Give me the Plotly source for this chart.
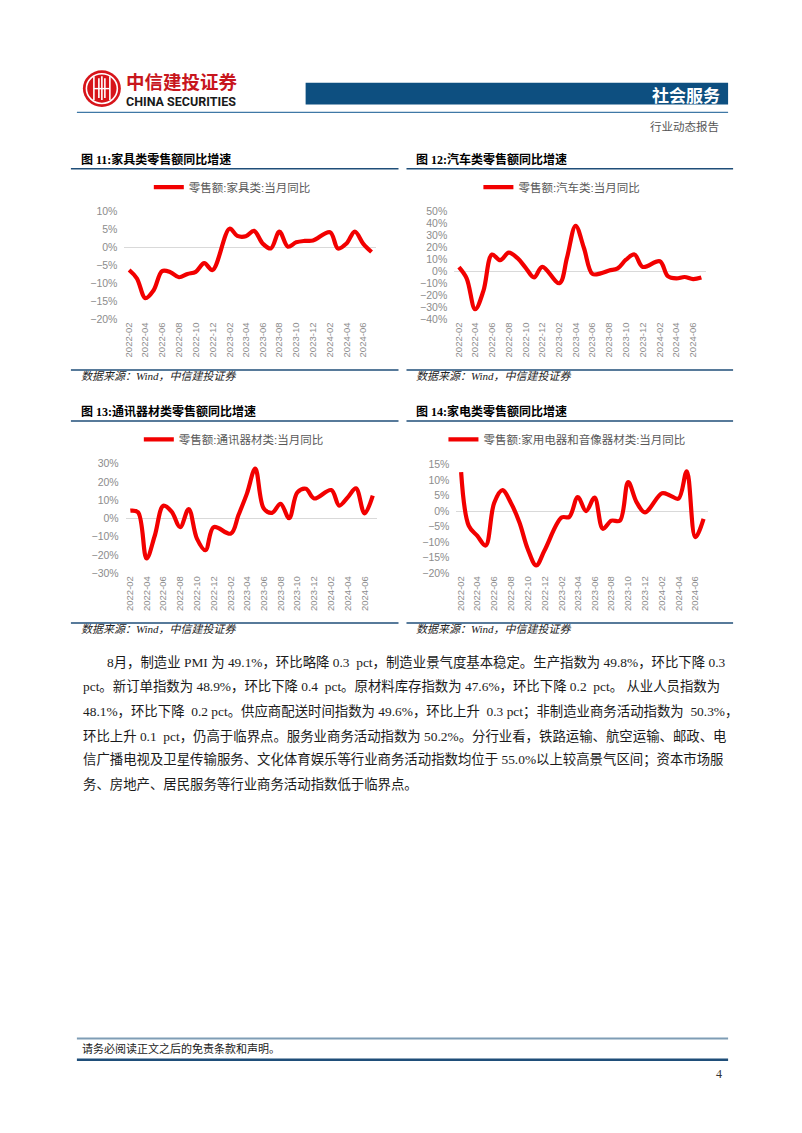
import plotly.graph_objects as go

# ---------------- data ----------------
months = ["2022-02", "2022-03", "2022-04", "2022-05", "2022-06", "2022-07", "2022-08",
          "2022-09", "2022-10", "2022-11", "2022-12",
          "2023-02", "2023-03", "2023-04", "2023-05", "2023-06", "2023-07", "2023-08",
          "2023-09", "2023-10", "2023-11", "2023-12",
          "2024-02", "2024-03", "2024-04", "2024-05", "2024-06", "2024-07"]

furniture = [-6.2, -8.5, -14.0, -11.8, -6.5, -6.8, -8.2, -7.3, -6.7, -4.3, -6.2,
             5.3, 3.3, 3.2, 4.7, 1.2, -0.2, 4.5, 0.3, 1.5, 1.9, 2.0,
             4.3, -0.2, 1.2, 4.5, 1.1, -1.2]

auto = [3.8, -5.5, -31.3, -16.0, 14.3, 9.6, 15.9, 11.5, 3.5, -4.7, 4.1,
        -9.6, 12.0, 38.3, 20.0, -1.8, -1.4, 1.0, 2.8, 10.0, 14.4, 4.0,
        8.7, -3.7, -5.6, -4.4, -6.2, -4.9]

telecom = [4.3, 3.4, -21.9, -9.3, 7.0, 3.8, -4.7, 5.2, -11.0, -17.4, -4.7,
           -8.3, 1.9, 13.8, 27.3, 5.5, 3.1, 8.0, 0.2, 14.3, 16.3, 11.0,
           15.6, 7.1, 11.6, 16.5, 2.8, 12.5]

appliance = [12.5, -4.8, -8.0, -11.1, 2.6, 6.7, 2.6, -3.7, -12.2, -17.5, -12.7,
             -2.1, -1.9, 4.5, 0.0, 4.3, -5.7, -3.1, -3.1, 9.3, 2.8, -0.4,
             5.7, 5.0, 4.0, 12.8, -8.4, -2.5]

tick_labels = ["2022-02", "2022-04", "2022-06", "2022-08", "2022-10", "2022-12",
               "2023-02", "2023-04", "2023-06", "2023-08", "2023-10", "2023-12",
               "2024-02", "2024-04", "2024-06"]

series_names = ["零售额:家具类:当月同比", "零售额:汽车类:当月同比",
                "零售额:通讯器材类:当月同比", "零售额:家用电器和音像器材类:当月同比"]
titles = ["图 11:家具类零售额同比增速", "图 12:汽车类零售额同比增速",
          "图 13:通讯器材类零售额同比增速", "图 14:家电类零售额同比增速"]
y_ranges = [(-20, 10, 5), (-40, 50, 10), (-30, 30, 10), (-20, 15, 5)]
series = [furniture, auto, telecom, appliance]

paragraph = [
    "8月，制造业 PMI 为 49.1%，环比略降 0.3  pct，制造业景气度基本稳定。生产指数为 49.8%，环比下降 0.3",
    "pct。新订单指数为 48.9%，环比下降 0.4  pct。原材料库存指数为 47.6%，环比下降 0.2  pct。 从业人员指数为",
    "48.1%，环比下降  0.2 pct。供应商配送时间指数为 49.6%，环比上升  0.3 pct；非制造业商务活动指数为  50.3%，",
    "环比上升 0.1  pct，仍高于临界点。服务业商务活动指数为 50.2%。分行业看，铁路运输、航空运输、邮政、电",
    "信广播电视及卫星传输服务、文化体育娱乐等行业商务活动指数均位于 55.0%以上较高景气区间；资本市场服",
    "务、房地产、居民服务等行业商务活动指数低于临界点。",
]

# ---------------- page geometry helpers ----------------
W, H = 802, 1133


def fx(p):
    return p / W


def fy(p):
    return 1 - p / H


x_dates = [m + "-01" for m in months]
tick_vals = [t + "-01" for t in tick_labels]
x_range = ["2022-01-15", "2024-07-18"]

geo = [
    dict(x0=128.3, ppm=8.37, top=208.0, bot=317.0, leg_x=158, leg_y=183, L=70, R=398, t_y=155, rule_t=164.5, rule_b=368, src_y=374),
    dict(x0=458.5, ppm=8.37, top=208.0, bot=317.0, leg_x=488, leg_y=183, L=406, R=733, t_y=155, rule_t=164.5, rule_b=368, src_y=374),
    dict(x0=129.5, ppm=8.37, top=462.7, bot=573.3, leg_x=148, leg_y=438, L=70, R=398, t_y=410, rule_t=419.5, rule_b=623.5, src_y=630),
    dict(x0=460.7, ppm=8.37, top=463.3, bot=573.3, leg_x=453, leg_y=438, L=406, R=733, t_y=410, rule_t=419.5, rule_b=623.5, src_y=630),
]

RED = "#f20000"
GRAY_TXT = "#8c8c8c"
NAVY = "#1f4e79"
FONT_SANS = "Liberation Sans, Arial, Noto Sans CJK SC"
FONT_SERIF = "Liberation Serif, Noto Sans CJK SC"

fig = go.Figure()
layout = dict(
    width=W, height=H, margin=dict(l=0, r=0, t=0, b=0),
    paper_bgcolor="white", plot_bgcolor="white", showlegend=True,
)
annotations = []
shapes = []

for i, g in enumerate(geo):
    k = "" if i == 0 else str(i + 1)
    ymin, ymax, dt = y_ranges[i]
    d0 = g["x0"] - 0.56 * g["ppm"]
    d1 = g["x0"] + 29.56 * g["ppm"]
    leg = "legend" + k
    fig.add_trace(go.Scatter(
        x=x_dates, y=series[i], mode="lines", name=series_names[i],
        line=dict(color=RED, width=4.2, shape="spline", smoothing=1.0),
        xaxis="x" + k, yaxis="y" + k, legend=leg, hoverinfo="skip",
    ))
    layout["xaxis" + k] = dict(
        domain=[fx(d0), fx(d1)], range=x_range, type="date", anchor="y" + k,
        tickmode="array", tickvals=tick_vals, ticktext=tick_labels, tickangle=-90,
        tickfont=dict(family=FONT_SANS, size=9.5, color=GRAY_TXT),
        showgrid=False, showline=False, zeroline=False, ticks="", fixedrange=True,
    )
    layout["yaxis" + k] = dict(
        domain=[fy(g["bot"]), fy(g["top"])], range=[ymin, ymax], anchor="x" + k,
        tickmode="linear", tick0=ymin, dtick=dt, ticksuffix="%",
        tickfont=dict(family=FONT_SANS, size=10.5, color=GRAY_TXT),
        showgrid=False, showline=False, ticks="", zeroline=True,
        zerolinecolor="#d9d9d9", zerolinewidth=1.3, ticklabelstandoff=6, fixedrange=True,
    )
    layout[leg] = dict(
        x=fx(g["leg_x"] - 10), y=fy(g["leg_y"]), xanchor="left", yanchor="middle",
        orientation="h", bgcolor="rgba(0,0,0,0)", borderwidth=0, itemwidth=30,
        font=dict(family=FONT_SANS, size=11.5, color="#595959"),
    )
    annotations.append(dict(
        x=fx(g["L"] + 8), y=fy(g["t_y"]), xref="paper", yref="paper", xanchor="left", yanchor="middle",
        text="<b>" + titles[i] + "</b>", showarrow=False,
        font=dict(family=FONT_SERIF, size=12, color="#000000"),
    ))
    annotations.append(dict(
        x=fx(g["L"] + 8), y=fy(g["src_y"]), xref="paper", yref="paper", xanchor="left", yanchor="middle",
        text="<i>数据来源：Wind，中信建投证券</i>", showarrow=False,
        font=dict(family=FONT_SERIF, size=11, color="#222222"),
    ))
    for ry in (g["rule_t"], g["rule_b"]):
        shapes.append(dict(type="line", xref="paper", yref="paper",
                           x0=fx(g["L"]), x1=fx(g["R"]), y0=fy(ry), y1=fy(ry),
                           line=dict(color=NAVY, width=1.5)))

# ---------------- header ----------------
shapes += [
    dict(type="rect", xref="paper", yref="paper", x0=fx(305), x1=fx(728), y0=fy(99.5), y1=fy(77.5),
         fillcolor="#0d4f80", line=dict(width=0)),
    dict(type="line", xref="paper", yref="paper", x0=fx(76), x1=fx(728), y0=fy(107.5), y1=fy(107.5),
         line=dict(color="#3f78a6", width=1.3)),
    dict(type="circle", xref="paper", yref="paper", x0=fx(82), x1=fx(120), y0=fy(102), y1=fy(65),
         fillcolor="#d7141a", line=dict(width=0)),
    dict(type="circle", xref="paper", yref="paper", x0=fx(85.5), x1=fx(116.5), y0=fy(98.5), y1=fy(68.5),
         fillcolor="rgba(0,0,0,0)", line=dict(color="white", width=1.6)),
]
for lx in (93, 98, 101, 104, 109):
    shapes.append(dict(type="line", xref="paper", yref="paper", x0=fx(lx), x1=fx(lx),
                       y0=fy(93 if lx in (98, 104) else 95), y1=fy(73 if lx in (98, 104) else 71),
                       line=dict(color="white", width=1.6)))
shapes.append(dict(type="line", xref="paper", yref="paper", x0=fx(93), x1=fx(109), y0=fy(83.5), y1=fy(83.5),
                   line=dict(color="white", width=1.4)))

annotations += [
    dict(x=fx(124), y=fy(75.5), xref="paper", yref="paper", xanchor="left", yanchor="middle",
         text="<b>中信建投证券</b>", showarrow=False, borderpad=0,
         font=dict(family="Noto Sans CJK SC", size=18.5, color="#c8161d")),
    dict(x=fx(124), y=fy(97), xref="paper", yref="paper", xanchor="left", yanchor="middle",
         text="<b>CHINA SECURITIES</b>", showarrow=False, borderpad=0,
         font=dict(family="Liberation Sans Narrow, Roboto, Arial", size=12.5, color="#1a1a1a")),
    dict(x=fx(722), y=fy(89), xref="paper", yref="paper", xanchor="right", yanchor="middle",
         text="<b>社会服务</b>", showarrow=False,
         font=dict(family="Noto Sans CJK SC", size=17, color="white")),
    dict(x=fx(721), y=fy(122), xref="paper", yref="paper", xanchor="right", yanchor="middle",
         text="行业动态报告", showarrow=False,
         font=dict(family=FONT_SERIF, size=11.5, color="#555555")),
]

# ---------------- body paragraph ----------------
line_y = [663, 688, 713, 737.5, 762, 786.5]
for j, (t, yy) in enumerate(zip(paragraph, line_y)):
    annotations.append(dict(
        x=fx(104 if j == 0 else 80), y=fy(yy), xref="paper", yref="paper", xanchor="left", yanchor="middle",
        text=t, showarrow=False, font=dict(family=FONT_SERIF, size=13.4, color="#1a1a1a"),
    ))

# ---------------- footer ----------------
shapes += [
    dict(type="line", xref="paper", yref="paper", x0=fx(76), x1=fx(728), y0=fy(1043.5), y1=fy(1043.5),
         line=dict(color="#7f9db5", width=2)),
    dict(type="line", xref="paper", yref="paper", x0=fx(76), x1=fx(728), y0=fy(1065), y1=fy(1065),
         line=dict(color="#1f4e79", width=2.5)),
]
annotations += [
    dict(x=fx(79), y=fy(1054), xref="paper", yref="paper", xanchor="left", yanchor="middle",
         text="请务必阅读正文之后的免责条款和声明。", showarrow=False,
         font=dict(family=FONT_SERIF, size=11, color="#1a1a1a")),
    dict(x=fx(724), y=fy(1079), xref="paper", yref="paper", xanchor="right", yanchor="middle",
         text="4", showarrow=False, font=dict(family=FONT_SERIF, size=12, color="#333333")),
]

layout["annotations"] = annotations
layout["shapes"] = shapes
fig.update_layout(**layout)
fig.write_html("out.html")
